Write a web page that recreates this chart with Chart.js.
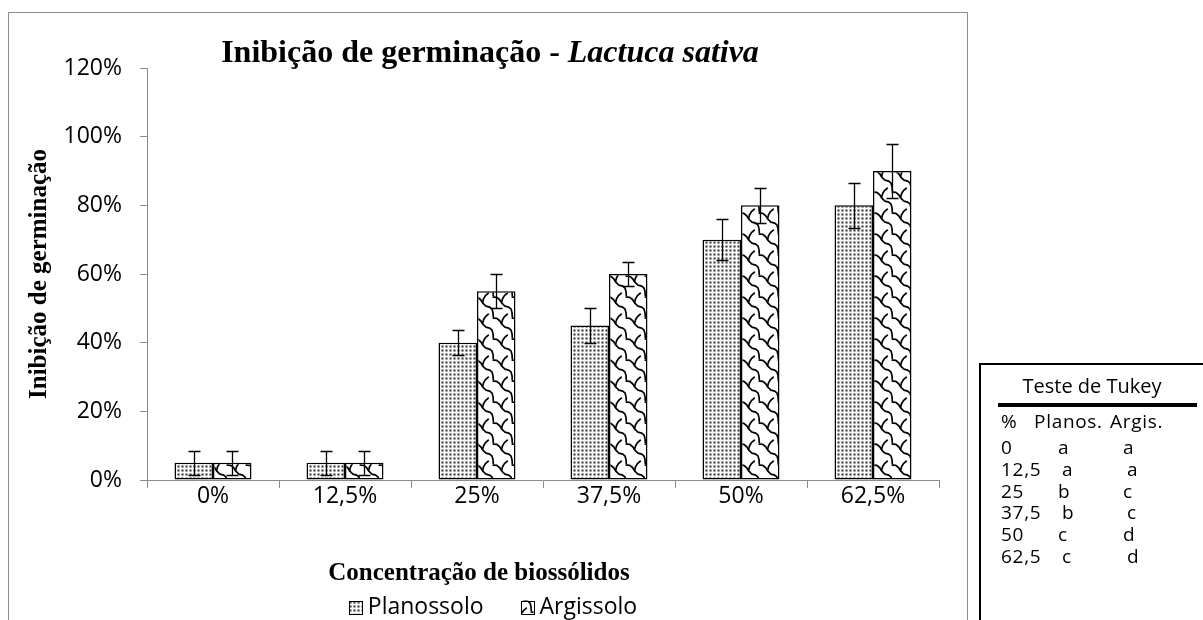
<!DOCTYPE html>
<html><head><meta charset="utf-8">
<script src="https://cdn.jsdelivr.net/npm/chart.js@4.4.0/dist/chart.umd.min.js"></script>
<style>
html,body{margin:0;padding:0;background:#fff;width:1203px;height:620px;overflow:hidden;}
body{position:relative;}
#frame{position:absolute;left:8px;top:12px;width:960px;height:700px;border:1px solid #8c8c8c;box-sizing:border-box;}
#c{position:absolute;left:0;top:0;}
#title{position:absolute;left:8px;width:964px;top:31px;text-align:center;font-family:"Liberation Serif",serif;font-weight:bold;font-size:32px;line-height:40px;color:#000;white-space:nowrap;}
#xtitle{position:absolute;left:0;width:958px;top:557px;text-align:center;font-family:"Liberation Serif",serif;font-weight:bold;font-size:25px;line-height:30px;color:#000;white-space:nowrap;}
#tukey{position:absolute;left:979px;top:363px;width:400px;height:400px;border-left:2px solid #000;border-top:2px solid #000;}
.tk{position:absolute;font-family:"Open Sans",sans-serif;color:#000;line-height:1;white-space:nowrap;}
.row{letter-spacing:0.7px;}
#tkline{position:absolute;left:998px;top:403px;width:199px;height:4px;background:#000;}
</style></head>
<body>
<div id="frame"></div>
<canvas id="c" width="1203" height="620"></canvas>
<div id="title">Inibição de germinação - <i>Lactuca sativa</i></div>
<div id="xtitle">Concentração de biossólidos</div>
<div id="tukey"></div>
<div id="tkline"></div>
<div id="tkwrap"></div>
<script>
// ---- data ----
const categories = ['0%', '12,5%', '25%', '37,5%', '50%', '62,5%'];
const planossolo = [5, 5, 40, 45, 70, 80];
const argissolo  = [5, 5, 55, 60, 80, 90];
const planossoloErr = [3.5, 3.5, 3.6, 5, 6, 6.6];
const argissoloErr  = [3.5, 3.5, 5, 3.5, 5, 8];
const seriesNames = ['Planossolo', 'Argissolo'];
const yMin = 0, yMax = 120, yStep = 20;
const tukeyTitle = 'Teste de Tukey';
const tukeyHeader = ['%', 'Planos.', 'Argis.'];
const tukeyConc = ['0', '12,5', '25', '37,5', '50', '62,5'];
const tukeyPlan = ['a', 'a', 'b', 'b', 'c', 'c'];
const tukeyArg  = ['a', 'a', 'c', 'c', 'd', 'd'];

// ---- Tukey box text ----
(function(){
  const wrap = document.getElementById('tkwrap');
  function put(txt, left, baseline, fs, cls){
    const s = document.createElement('span');
    s.className = 'tk' + (cls ? ' ' + cls : ''); s.textContent = txt;
    s.style.fontSize = fs + 'px';
    s.style.left = left + 'px';
    s.style.top = (baseline - 0.888 * fs) + 'px';
    wrap.appendChild(s);
    return s;
  }
  const t = put(tukeyTitle, 0, 394, 20);
  t.style.left = '1092px'; t.style.transform = 'translateX(-50%)';
  const fs = 19;
  put(tukeyHeader[0], 1001, 429, fs, 'row');
  put(tukeyHeader[1], 1034, 429, fs, 'row');
  put(tukeyHeader[2], 1110, 429, fs, 'row');
  const base0 = 455, step = 21.7;
  tukeyConc.forEach((c, i) => {
    const b = base0 + i * step;
    const off = c.indexOf(',') >= 0 ? 4 : 0;
    put(c, 1001, b, fs, 'row');
    put(tukeyPlan[i], 1058 + off, b, fs, 'row');
    put(tukeyArg[i], 1123 + off, b, fs, 'row');
  });
})();

// ---- patterns ----
function dotPattern(){
  const c = document.createElement('canvas'); c.width = 4; c.height = 4;
  const g = c.getContext('2d');
  g.fillStyle = '#ececec'; g.fillRect(0,0,4,4);
  g.fillStyle = '#ffffff'; g.fillRect(0,0,4,1); g.fillRect(0,0,1,4);
  g.fillStyle = '#3c3c3c'; g.fillRect(1.5,1.5,2,2);
  return g.createPattern(c, 'repeat');
}
function shinglePattern(){
  const W = 19, H = 21;
  const c = document.createElement('canvas'); c.width = W; c.height = H;
  const g = c.getContext('2d');
  g.fillStyle = '#fff'; g.fillRect(0,0,W,H);
  const sx = W/8, sy = H/8;
  const p1 = [[-0.3,1.2],[1.2,1.3],[2.4,2.2],[3.4,3.6],[4.6,4.6],[6.2,5.0],[7.2,5.8],[7.6,7.2],[7.7,8.6]];
  const p2 = [[5.6,-0.3],[4.4,0.6],[3.6,1.8],[3.2,3.2]];
  g.strokeStyle = '#000'; g.lineWidth = 1.7; g.lineJoin = 'round'; g.lineCap = 'round';
  for (const ox of [-8,0,8]) for (const oy of [-8,0,8]) {
    for (const p of [p1,p2]) {
      g.beginPath();
      p.forEach((q,k) => { const X=(q[0]+ox)*sx, Y=(q[1]+oy)*sy; k?g.lineTo(X,Y):g.moveTo(X,Y); });
      g.stroke();
    }
  }
  return g.createPattern(c, 'repeat');
}
const dotFill = dotPattern();
const shingleFill = shinglePattern();

// ---- plugins ----
const errorBars = {
  id: 'errorBars',
  afterDatasetsDraw(chart){
    const ctx = chart.ctx, y = chart.scales.y;
    chart.data.datasets.forEach((ds, i) => {
      const meta = chart.getDatasetMeta(i);
      meta.data.forEach((bar, j) => {
        const v = ds.data[j], e = ds.errors[j];
        const yt = Math.round(y.getPixelForValue(v + e)) + 0.5;
        const yb = Math.round(y.getPixelForValue(v - e)) + 0.5;
        const x = Math.round(bar.x) + 0.5;
        ctx.save();
        ctx.strokeStyle = '#000'; ctx.lineWidth = 1.3;
        ctx.beginPath();
        ctx.moveTo(x, yt); ctx.lineTo(x, yb);
        ctx.moveTo(x - 6, yt); ctx.lineTo(x + 6, yt);
        ctx.moveTo(x - 6, yb); ctx.lineTo(x + 6, yb);
        ctx.stroke();
        ctx.restore();
      });
    });
  }
};
const customLegend = {
  id: 'customLegend',
  afterDraw(chart){
    const ctx = chart.ctx;
    ctx.save();
    ctx.font = '23px "Open Sans"';
    ctx.textBaseline = 'middle';
    const box = 13, gapBox = 6, gapItem = 37, cx = 493, cy = 607;
    const items = chart.data.datasets.map(ds => ({label: ds.label, fill: ds.backgroundColor, w: ctx.measureText(ds.label).width}));
    let total = items.reduce((s, it) => s + box + gapBox + it.w, 0) + gapItem * (items.length - 1);
    let x = cx - total / 2;
    items.forEach(it => {
      ctx.fillStyle = it.fill;
      ctx.fillRect(x, cy - box/2, box, box);
      ctx.strokeStyle = '#000'; ctx.lineWidth = 1;
      ctx.strokeRect(Math.round(x)+0.5, Math.round(cy - box/2)+0.5, box, box);
      ctx.fillStyle = '#000';
      ctx.fillText(it.label, x + box + gapBox, cy);
      x += box + gapBox + it.w + gapItem;
    });
    ctx.restore();
  }
};

// ---- chart ----
const tickFont = {family: 'Open Sans', size: 23};
new Chart(document.getElementById('c'), {
  type: 'bar',
  data: {
    labels: categories,
    datasets: [
      {label: seriesNames[0], data: planossolo, errors: planossoloErr, backgroundColor: dotFill, borderColor: '#000', borderWidth: 1.5, borderSkipped: false},
      {label: seriesNames[1], data: argissolo, errors: argissoloErr, backgroundColor: shingleFill, borderColor: '#000', borderWidth: 1.5, borderSkipped: false}
    ]
  },
  options: {
    responsive: false, animation: false, devicePixelRatio: 1,
    layout: {padding: {left: 8, top: 68, right: 264, bottom: 0}},
    datasets: {bar: {categoryPercentage: 0.583, barPercentage: 1}},
    plugins: {legend: {display: false}, tooltip: {enabled: false}, title: {display: false}},
    scales: {
      x: {
        grid: {display: true, drawOnChartArea: false, color: '#8c8c8c', tickLength: 8, offset: true},
        border: {color: '#8c8c8c'},
        ticks: {font: tickFont, color: '#000', padding: -5},
        afterFit(s){ s.height = 140; }
      },
      y: {
        min: yMin, max: yMax,
        ticks: {stepSize: yStep, callback: v => v + '%', font: tickFont, color: '#000', padding: 18},
        grid: {drawOnChartArea: false, color: '#8c8c8c', tickLength: 7},
        border: {color: '#8c8c8c'},
        title: {display: true, text: 'Inibição de germinação', color: '#000', font: {family: 'Liberation Serif', size: 25, weight: 'bold'}, padding: {top: 17, bottom: 0}},
        afterFit(s){ s.width = 139; }
      }
    }
  },
  plugins: [errorBars, customLegend]
});
</script>
</body></html>
